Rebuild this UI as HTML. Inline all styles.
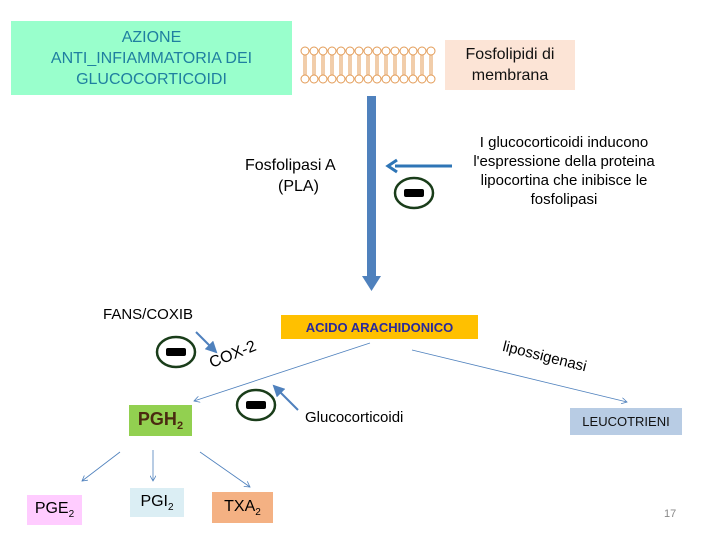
<!DOCTYPE html>
<html><head><meta charset="utf-8"><style>
body{margin:0;width:720px;height:540px;background:#fff;position:relative;overflow:hidden;font-family:"Liberation Sans",sans-serif}
.b{position:absolute;display:flex;align-items:center;justify-content:center;text-align:center}
.t{position:absolute;white-space:nowrap}
sub{vertical-align:-4px}
</style></head><body>
<div class="b" style="left:11px;top:21px;width:281px;height:74px;background:#99ffcc;color:#1f7fa0;font-size:16px;line-height:21px">AZIONE<br>ANTI_INFIAMMATORIA DEI<br>GLUCOCORTICOIDI</div>
<div class="b" style="left:445px;top:40px;width:130px;height:50px;background:#fce4d6;color:#111;font-size:16px;line-height:21px">Fosfolipidi di<br>membrana</div>
<svg width="720" height="540" style="position:absolute;left:0;top:0">
<defs><marker id="a" markerWidth="8" markerHeight="8" refX="7" refY="4" orient="auto"><path d="M0,0 L7,4 L0,8" fill="none" stroke="#4f81bd" stroke-width="1"/></marker>
<marker id="s" markerWidth="6" markerHeight="6" refX="5" refY="3" orient="auto"><path d="M0,0 L6,3 L0,6Z" fill="#4f81bd"/></marker></defs>
<g stroke="#e39b56" fill="#fff" stroke-width="1">
<g id="r"><circle cx="305" cy="51" r="4"/><circle cx="305" cy="79" r="4"/><line x1="304" y1="55" x2="304" y2="75"/><line x1="306" y1="55" x2="306" y2="75"/></g>
</g>
<g stroke="#e39b56" fill="#fff">
<use href="#r" x="9"/><use href="#r" x="18"/><use href="#r" x="27"/><use href="#r" x="36"/><use href="#r" x="45"/><use href="#r" x="54"/><use href="#r" x="63"/><use href="#r" x="72"/><use href="#r" x="81"/><use href="#r" x="90"/><use href="#r" x="99"/><use href="#r" x="108"/><use href="#r" x="117"/><use href="#r" x="126"/></g>
<rect x="367" y="96" width="9" height="182" fill="#4f81bd"/>
<path d="M362,276 L381,276 L371.5,291Z" fill="#4f81bd"/>
<line x1="452" y1="166" x2="395" y2="166" stroke="#2e75b6" stroke-width="3"/>
<path d="M397,160 L388,166 L397,172" fill="none" stroke="#2e75b6" stroke-width="3"/>
<g stroke="#1a3d1a" stroke-width="2.5" fill="#fff">
<ellipse cx="414" cy="193" rx="19" ry="15"/><ellipse cx="176" cy="352" rx="19" ry="15"/><ellipse cx="256" cy="405" rx="19" ry="15"/></g>
<g fill="#000"><rect x="404" y="189" width="20" height="8" rx="2"/><rect x="166" y="348" width="20" height="8" rx="2"/><rect x="246" y="401" width="20" height="8" rx="2"/></g>
<line x1="196" y1="332" x2="216" y2="352" stroke="#4f81bd" stroke-width="2" marker-end="url(#s)"/>
<line x1="298" y1="410" x2="274" y2="386" stroke="#4f81bd" stroke-width="2" marker-end="url(#s)"/>
<g stroke="#4f81bd" stroke-width="0.8" fill="none" marker-end="url(#a)">
<line x1="370" y1="343" x2="194" y2="401"/>
<line x1="412" y1="350" x2="627" y2="402"/>
<line x1="120" y1="452" x2="82" y2="481"/>
<line x1="153" y1="450" x2="153" y2="481"/>
<line x1="200" y1="452" x2="250" y2="487"/>
</g>
</svg>
<div class="t" style="left:245px;top:157px;font-size:16px">Fosfolipasi A</div>
<div class="t" style="left:278px;top:178px;font-size:16px">(PLA)</div>
<div class="t" style="left:458px;top:133px;width:212px;text-align:center;font-size:15px;line-height:19px">I glucocorticoidi inducono<br>l'espressione della proteina<br>lipocortina che inibisce le<br>fosfolipasi</div>
<div class="t" style="left:103px;top:306px;font-size:15px">FANS/COXIB</div>
<div class="t" style="left:207px;top:356px;font-size:16px;transform:rotate(-22deg);transform-origin:left top">COX-2</div>
<div class="b" style="left:281px;top:315px;width:197px;height:24px;background:#ffc000;color:#2a2a9a;font-size:13px;font-weight:bold">ACIDO ARACHIDONICO</div>
<div class="t" style="left:505px;top:338px;font-size:15px;transform:rotate(14deg);transform-origin:left top">lipossigenasi</div>
<div class="t" style="left:305px;top:409px;font-size:15px">Glucocorticoidi</div>
<div class="b" style="left:129px;top:405px;width:63px;height:31px;background:#92d050;color:#4a2a10;font-size:18px;font-weight:bold"><span>PGH<sub style="font-size:11px">2</sub></span></div>
<div class="b" style="left:570px;top:408px;width:112px;height:27px;background:#b8cce4;color:#111;font-size:13px">LEUCOTRIENI</div>
<div class="b" style="left:27px;top:495px;width:55px;height:30px;background:#ffccff;font-size:16px"><span>PGE<sub style="font-size:10px">2</sub></span></div>
<div class="b" style="left:130px;top:488px;width:54px;height:29px;background:#dbeef4;font-size:16px"><span>PGI<sub style="font-size:10px">2</sub></span></div>
<div class="b" style="left:212px;top:492px;width:61px;height:31px;background:#f4b183;font-size:16px"><span>TXA<sub style="font-size:10px">2</sub></span></div>
<div class="t" style="left:664px;top:508px;font-size:11px;color:#888">17</div>
</body></html>
